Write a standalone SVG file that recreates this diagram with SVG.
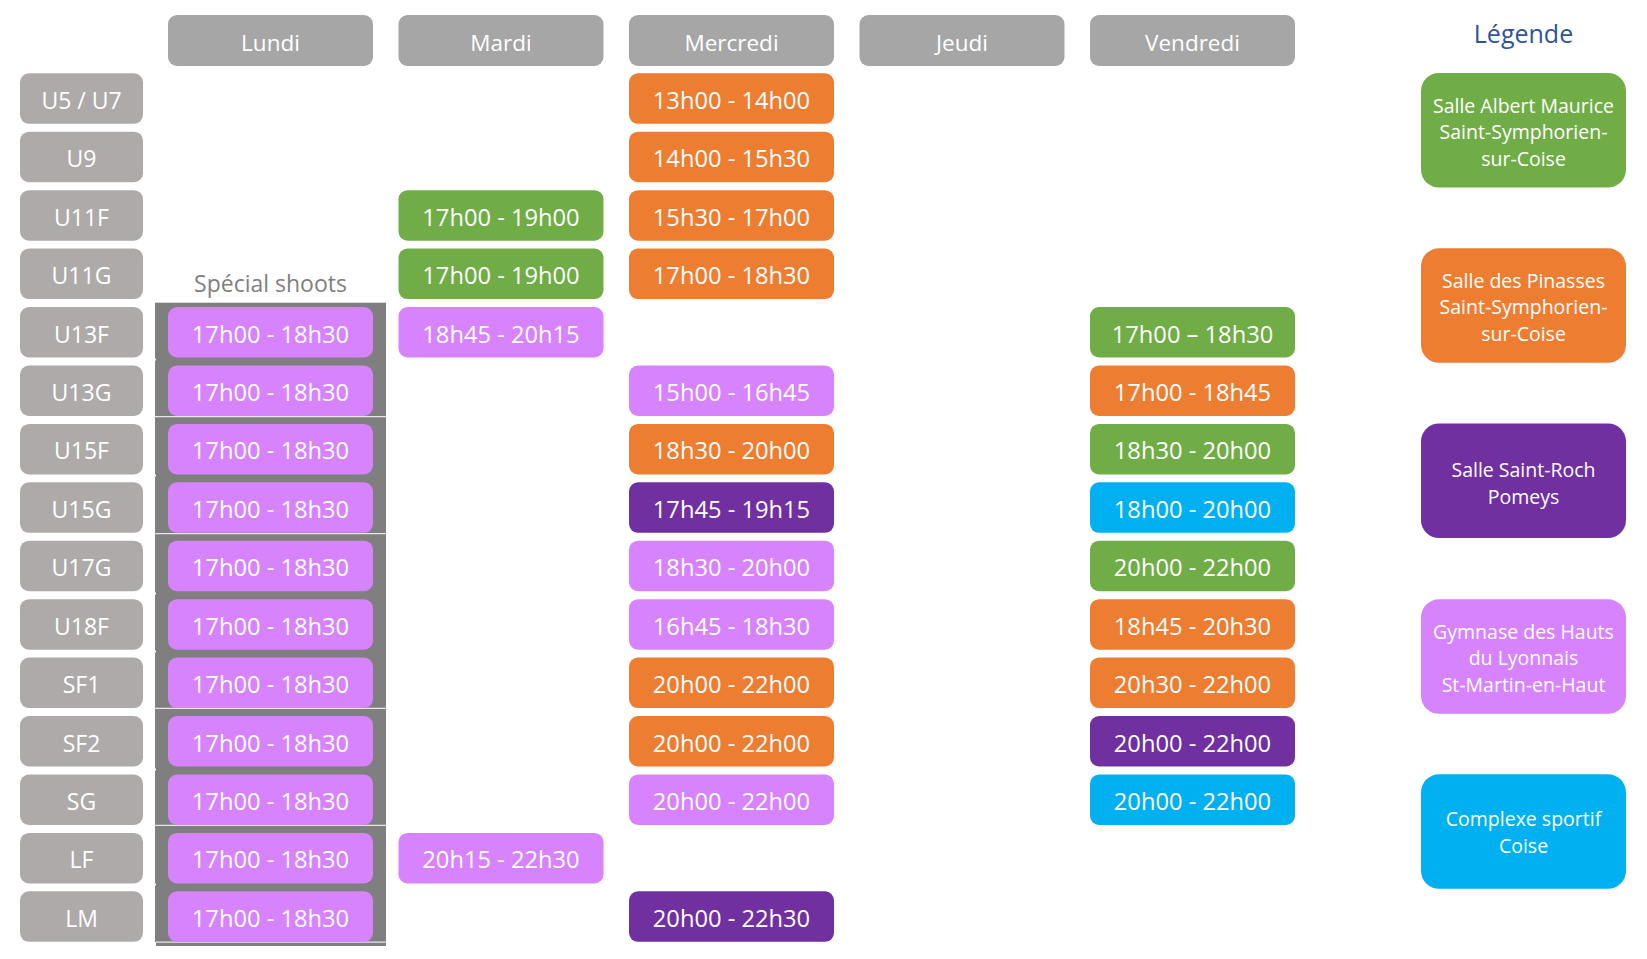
<svg xmlns="http://www.w3.org/2000/svg" width="1647" height="959" viewBox="0 0 1647 959">
<style>
text{font-family:"Open Sans","Noto Sans","Liberation Sans",sans-serif;text-anchor:middle;fill:#FFFFFF}
.hd rect{fill:#A6A6A6}
.hd text{font-size:22.5px}
.rl rect{fill:#AEAAAA}
.rl text{font-size:23px}
.t text{font-size:23.7px}
.lg text{font-size:19.5px}
.g{fill:#70AD47}
.o{fill:#ED7D31}
.lp{fill:#D683FD}
.dp{fill:#7030A0}
.c{fill:#00B0F0}
</style>
<rect x="0" y="0" width="1647" height="959" fill="#FFFFFF"/>

<!-- Special shoots background -->
<g id="special-shoots">
<rect x="155" y="302.7" width="231" height="643.3" fill="#7F7F7F"/>
<g fill="#FFFFFF">
<rect x="155" y="416.2" width="231" height="1"/>
<rect x="155" y="533.2" width="231" height="1"/>
<rect x="155" y="707.8" width="231" height="1"/>
<rect x="155" y="824.8" width="231" height="1"/>
<rect x="156" y="941.6" width="230" height="1"/>
<rect x="155" y="358.5" width="1" height="2"/>
<rect x="155" y="474.5" width="1" height="2"/>
<rect x="155" y="592.5" width="1" height="2"/>
<rect x="155" y="650.5" width="1" height="2"/>
<rect x="155" y="768.5" width="1" height="2"/>
<rect x="155" y="883.5" width="1" height="2"/>
<rect x="155" y="942" width="1" height="4"/>
</g>
<text x="270.5" y="292" style="font-size:23px;fill:#7F7F7F">Spécial shoots</text>
</g>

<!-- Day headers -->
<g id="hd-lundi" class="hd"><rect x="168" y="15" width="205" height="51" rx="9"/><text x="270.5" y="51">Lundi</text></g>
<g id="hd-mardi" class="hd"><rect x="398.5" y="15" width="205" height="51" rx="9"/><text x="501" y="51">Mardi</text></g>
<g id="hd-mercredi" class="hd"><rect x="629" y="15" width="205" height="51" rx="9"/><text x="731.5" y="51">Mercredi</text></g>
<g id="hd-jeudi" class="hd"><rect x="859.5" y="15" width="205" height="51" rx="9"/><text x="962" y="51">Jeudi</text></g>
<g id="hd-vendredi" class="hd"><rect x="1090" y="15" width="205" height="51" rx="9"/><text x="1192.5" y="51">Vendredi</text></g>

<!-- Row labels -->
<g id="rl-u5u7" class="rl"><rect x="20" y="73.3" width="123" height="50.5" rx="9"/><text x="81.5" y="108.8">U5 / U7</text></g>
<g id="rl-u9" class="rl"><rect x="20" y="131.7" width="123" height="50.5" rx="9"/><text x="81.5" y="167.2">U9</text></g>
<g id="rl-u11f" class="rl"><rect x="20" y="190.2" width="123" height="50.5" rx="9"/><text x="81.5" y="225.7">U11F</text></g>
<g id="rl-u11g" class="rl"><rect x="20" y="248.6" width="123" height="50.5" rx="9"/><text x="81.5" y="284.1">U11G</text></g>
<g id="rl-u13f" class="rl"><rect x="20" y="307" width="123" height="50.5" rx="9"/><text x="81.5" y="342.5">U13F</text></g>
<g id="rl-u13g" class="rl"><rect x="20" y="365.5" width="123" height="50.5" rx="9"/><text x="81.5" y="401">U13G</text></g>
<g id="rl-u15f" class="rl"><rect x="20" y="423.9" width="123" height="50.5" rx="9"/><text x="81.5" y="459.4">U15F</text></g>
<g id="rl-u15g" class="rl"><rect x="20" y="482.3" width="123" height="50.5" rx="9"/><text x="81.5" y="517.8">U15G</text></g>
<g id="rl-u17g" class="rl"><rect x="20" y="540.7" width="123" height="50.5" rx="9"/><text x="81.5" y="576.2">U17G</text></g>
<g id="rl-u18f" class="rl"><rect x="20" y="599.2" width="123" height="50.5" rx="9"/><text x="81.5" y="634.7">U18F</text></g>
<g id="rl-sf1" class="rl"><rect x="20" y="657.6" width="123" height="50.5" rx="9"/><text x="81.5" y="693.1">SF1</text></g>
<g id="rl-sf2" class="rl"><rect x="20" y="716" width="123" height="50.5" rx="9"/><text x="81.5" y="751.5">SF2</text></g>
<g id="rl-sg" class="rl"><rect x="20" y="774.5" width="123" height="50.5" rx="9"/><text x="81.5" y="810">SG</text></g>
<g id="rl-lf" class="rl"><rect x="20" y="832.9" width="123" height="50.5" rx="9"/><text x="81.5" y="868.4">LF</text></g>
<g id="rl-lm" class="rl"><rect x="20" y="891.3" width="123" height="50.5" rx="9"/><text x="81.5" y="926.8">LM</text></g>

<!-- Lundi slots -->
<g id="lun-u13f" class="t"><rect class="lp" x="168" y="307" width="205" height="50.5" rx="9"/><text x="270.5" y="342.5">17h00 - 18h30</text></g>
<g id="lun-u13g" class="t"><rect class="lp" x="168" y="365.5" width="205" height="50.5" rx="9"/><text x="270.5" y="401">17h00 - 18h30</text></g>
<g id="lun-u15f" class="t"><rect class="lp" x="168" y="423.9" width="205" height="50.5" rx="9"/><text x="270.5" y="459.4">17h00 - 18h30</text></g>
<g id="lun-u15g" class="t"><rect class="lp" x="168" y="482.3" width="205" height="50.5" rx="9"/><text x="270.5" y="517.8">17h00 - 18h30</text></g>
<g id="lun-u17g" class="t"><rect class="lp" x="168" y="540.7" width="205" height="50.5" rx="9"/><text x="270.5" y="576.2">17h00 - 18h30</text></g>
<g id="lun-u18f" class="t"><rect class="lp" x="168" y="599.2" width="205" height="50.5" rx="9"/><text x="270.5" y="634.7">17h00 - 18h30</text></g>
<g id="lun-sf1" class="t"><rect class="lp" x="168" y="657.6" width="205" height="50.5" rx="9"/><text x="270.5" y="693.1">17h00 - 18h30</text></g>
<g id="lun-sf2" class="t"><rect class="lp" x="168" y="716" width="205" height="50.5" rx="9"/><text x="270.5" y="751.5">17h00 - 18h30</text></g>
<g id="lun-sg" class="t"><rect class="lp" x="168" y="774.5" width="205" height="50.5" rx="9"/><text x="270.5" y="810">17h00 - 18h30</text></g>
<g id="lun-lf" class="t"><rect class="lp" x="168" y="832.9" width="205" height="50.5" rx="9"/><text x="270.5" y="868.4">17h00 - 18h30</text></g>
<g id="lun-lm" class="t"><rect class="lp" x="168" y="891.3" width="205" height="50.5" rx="9"/><text x="270.5" y="926.8">17h00 - 18h30</text></g>

<!-- Mardi slots -->
<g id="mar-u11f" class="t"><rect class="g" x="398.5" y="190.2" width="205" height="50.5" rx="9"/><text x="501" y="225.7">17h00 - 19h00</text></g>
<g id="mar-u11g" class="t"><rect class="g" x="398.5" y="248.6" width="205" height="50.5" rx="9"/><text x="501" y="284.1">17h00 - 19h00</text></g>
<g id="mar-u13f" class="t"><rect class="lp" x="398.5" y="307" width="205" height="50.5" rx="9"/><text x="501" y="342.5">18h45 - 20h15</text></g>
<g id="mar-lf" class="t"><rect class="lp" x="398.5" y="832.9" width="205" height="50.5" rx="9"/><text x="501" y="868.4">20h15 - 22h30</text></g>

<!-- Mercredi slots -->
<g id="mer-u5u7" class="t"><rect class="o" x="629" y="73.3" width="205" height="50.5" rx="9"/><text x="731.5" y="108.8">13h00 - 14h00</text></g>
<g id="mer-u9" class="t"><rect class="o" x="629" y="131.7" width="205" height="50.5" rx="9"/><text x="731.5" y="167.2">14h00 - 15h30</text></g>
<g id="mer-u11f" class="t"><rect class="o" x="629" y="190.2" width="205" height="50.5" rx="9"/><text x="731.5" y="225.7">15h30 - 17h00</text></g>
<g id="mer-u11g" class="t"><rect class="o" x="629" y="248.6" width="205" height="50.5" rx="9"/><text x="731.5" y="284.1">17h00 - 18h30</text></g>
<g id="mer-u13g" class="t"><rect class="lp" x="629" y="365.5" width="205" height="50.5" rx="9"/><text x="731.5" y="401">15h00 - 16h45</text></g>
<g id="mer-u15f" class="t"><rect class="o" x="629" y="423.9" width="205" height="50.5" rx="9"/><text x="731.5" y="459.4">18h30 - 20h00</text></g>
<g id="mer-u15g" class="t"><rect class="dp" x="629" y="482.3" width="205" height="50.5" rx="9"/><text x="731.5" y="517.8">17h45 - 19h15</text></g>
<g id="mer-u17g" class="t"><rect class="lp" x="629" y="540.7" width="205" height="50.5" rx="9"/><text x="731.5" y="576.2">18h30 - 20h00</text></g>
<g id="mer-u18f" class="t"><rect class="lp" x="629" y="599.2" width="205" height="50.5" rx="9"/><text x="731.5" y="634.7">16h45 - 18h30</text></g>
<g id="mer-sf1" class="t"><rect class="o" x="629" y="657.6" width="205" height="50.5" rx="9"/><text x="731.5" y="693.1">20h00 - 22h00</text></g>
<g id="mer-sf2" class="t"><rect class="o" x="629" y="716" width="205" height="50.5" rx="9"/><text x="731.5" y="751.5">20h00 - 22h00</text></g>
<g id="mer-sg" class="t"><rect class="lp" x="629" y="774.5" width="205" height="50.5" rx="9"/><text x="731.5" y="810">20h00 - 22h00</text></g>
<g id="mer-lm" class="t"><rect class="dp" x="629" y="891.3" width="205" height="50.5" rx="9"/><text x="731.5" y="926.8">20h00 - 22h30</text></g>

<!-- Vendredi slots -->
<g id="ven-u13f" class="t"><rect class="g" x="1090" y="307" width="205" height="50.5" rx="9"/><text x="1192.5" y="342.5">17h00 – 18h30</text></g>
<g id="ven-u13g" class="t"><rect class="o" x="1090" y="365.5" width="205" height="50.5" rx="9"/><text x="1192.5" y="401">17h00 - 18h45</text></g>
<g id="ven-u15f" class="t"><rect class="g" x="1090" y="423.9" width="205" height="50.5" rx="9"/><text x="1192.5" y="459.4">18h30 - 20h00</text></g>
<g id="ven-u15g" class="t"><rect class="c" x="1090" y="482.3" width="205" height="50.5" rx="9"/><text x="1192.5" y="517.8">18h00 - 20h00</text></g>
<g id="ven-u17g" class="t"><rect class="g" x="1090" y="540.7" width="205" height="50.5" rx="9"/><text x="1192.5" y="576.2">20h00 - 22h00</text></g>
<g id="ven-u18f" class="t"><rect class="o" x="1090" y="599.2" width="205" height="50.5" rx="9"/><text x="1192.5" y="634.7">18h45 - 20h30</text></g>
<g id="ven-sf1" class="t"><rect class="o" x="1090" y="657.6" width="205" height="50.5" rx="9"/><text x="1192.5" y="693.1">20h30 - 22h00</text></g>
<g id="ven-sf2" class="t"><rect class="dp" x="1090" y="716" width="205" height="50.5" rx="9"/><text x="1192.5" y="751.5">20h00 - 22h00</text></g>
<g id="ven-sg" class="t"><rect class="c" x="1090" y="774.5" width="205" height="50.5" rx="9"/><text x="1192.5" y="810">20h00 - 22h00</text></g>

<!-- Legend -->
<g id="legend-title"><text x="1523.5" y="42.5" style="font-size:25px;fill:#2F5597">Légende</text></g>
<g id="lg-albert" class="lg"><rect class="g" x="1421" y="73" width="205" height="114.5" rx="18"/>
<text x="1523.5" y="112.7">Salle Albert Maurice</text><text x="1523.5" y="139.3">Saint-Symphorien-</text><text x="1523.5" y="165.9">sur-Coise</text></g>
<g id="lg-pinasses" class="lg"><rect class="o" x="1421" y="248.3" width="205" height="114.5" rx="18"/>
<text x="1523.5" y="287.8">Salle des Pinasses</text><text x="1523.5" y="314.4">Saint-Symphorien-</text><text x="1523.5" y="341">sur-Coise</text></g>
<g id="lg-saintroch" class="lg"><rect class="dp" x="1421" y="423.5" width="205" height="114.5" rx="18"/>
<text x="1523.5" y="476.8">Salle Saint-Roch</text><text x="1523.5" y="504">Pomeys</text></g>
<g id="lg-gymnase" class="lg"><rect class="lp" x="1421" y="599.3" width="205" height="114.5" rx="18"/>
<text x="1523.5" y="638.5">Gymnase des Hauts</text><text x="1523.5" y="665.1">du Lyonnais</text><text x="1523.5" y="691.7">St-Martin-en-Haut</text></g>
<g id="lg-complexe" class="lg"><rect class="c" x="1421" y="774.3" width="205" height="114.5" rx="18"/>
<text x="1523.5" y="825.8">Complexe sportif</text><text x="1523.5" y="853.3">Coise</text></g>

<g id="connectors"/>
</svg>
